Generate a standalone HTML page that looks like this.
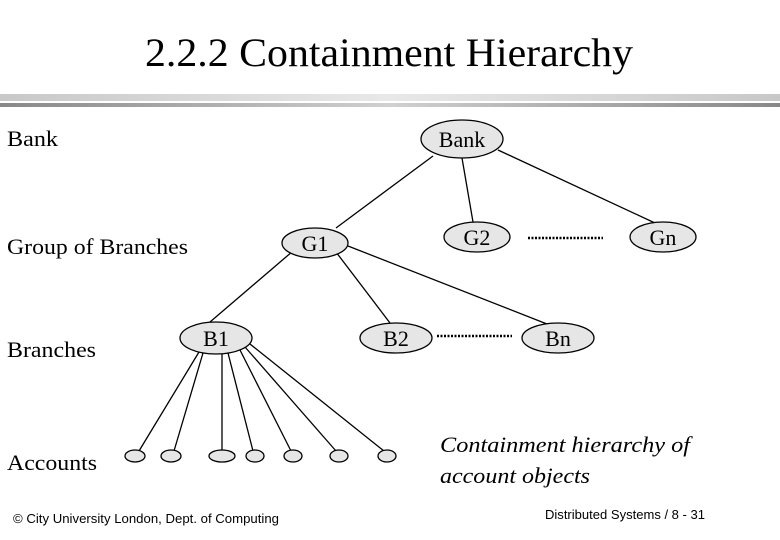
<!DOCTYPE html>
<html><head><meta charset="utf-8"><style>html,body{margin:0;padding:0;background:#fff}svg{display:block}</style></head>
<body>
<svg width="780" height="540" viewBox="0 0 780 540" xmlns="http://www.w3.org/2000/svg">
<defs>
<linearGradient id="g1" x1="0" x2="1"><stop offset="0" stop-color="#c8c8c8"/><stop offset="0.5" stop-color="#e8e8e8"/><stop offset="1" stop-color="#c8c8c8"/></linearGradient>
<linearGradient id="g2" x1="0" x2="1"><stop offset="0" stop-color="#888"/><stop offset="0.5" stop-color="#d0d0d0"/><stop offset="1" stop-color="#888"/></linearGradient>
</defs>
<rect x="0" y="94" width="780" height="7" fill="url(#g1)"/>
<rect x="0" y="103" width="780" height="4" fill="url(#g2)"/>
<g font-family="Liberation Serif, serif" fill="#000">
<text x="145" y="66" font-size="40" textLength="488" lengthAdjust="spacingAndGlyphs">2.2.2 Containment Hierarchy</text>
<text x="7" y="146" font-size="22" textLength="51" lengthAdjust="spacingAndGlyphs">Bank</text>
<text x="7" y="254" font-size="22" textLength="181" lengthAdjust="spacingAndGlyphs">Group of Branches</text>
<text x="7" y="357" font-size="22" textLength="89" lengthAdjust="spacingAndGlyphs">Branches</text>
<text x="7" y="470" font-size="22" textLength="90" lengthAdjust="spacingAndGlyphs">Accounts</text>
<text x="440" y="452" font-size="22" font-style="italic" textLength="250" lengthAdjust="spacingAndGlyphs">Containment hierarchy of</text>
<text x="440" y="483" font-size="22" font-style="italic" textLength="150" lengthAdjust="spacingAndGlyphs">account objects</text>
</g>
<g font-family="Liberation Sans, sans-serif" font-size="13" fill="#000">
<text x="13" y="523" textLength="266" lengthAdjust="spacingAndGlyphs">© City University London, Dept. of Computing</text>
<text x="545" y="519" textLength="160" lengthAdjust="spacingAndGlyphs">Distributed Systems / 8 - 31</text>
</g>
<g stroke="#000" stroke-width="1.3" fill="none">
<line x1="433" y1="156" x2="336" y2="228"/>
<line x1="462" y1="158" x2="473" y2="222"/>
<line x1="498" y1="150" x2="655" y2="223"/>
<line x1="293" y1="251" x2="210" y2="322"/>
<line x1="336" y1="252" x2="390" y2="323"/>
<line x1="348" y1="246" x2="547" y2="324"/>
<line x1="199" y1="352" x2="139" y2="451"/>
<line x1="203" y1="353" x2="174" y2="451"/>
<line x1="222" y1="353" x2="222" y2="450"/>
<line x1="228" y1="353" x2="253" y2="451"/>
<line x1="240" y1="350" x2="291" y2="451"/>
<line x1="245" y1="347" x2="336" y2="451"/>
<line x1="250" y1="344" x2="384" y2="451"/>
<line x1="528" y1="238" x2="603" y2="238" stroke-width="2.5" stroke-dasharray="2 1.5"/>
<line x1="437" y1="336" x2="512" y2="336" stroke-width="2.5" stroke-dasharray="2 1.5"/>
</g>
<g fill="#e6e6e6" stroke="#000" stroke-width="1.3">
<ellipse cx="462" cy="139" rx="41" ry="19"/>
<ellipse cx="315" cy="243" rx="33" ry="15"/>
<ellipse cx="477" cy="237" rx="33" ry="15"/>
<ellipse cx="663" cy="237" rx="33" ry="15"/>
<ellipse cx="216" cy="338" rx="36" ry="16"/>
<ellipse cx="396" cy="338" rx="36" ry="15"/>
<ellipse cx="558" cy="338" rx="36" ry="15"/>
<ellipse cx="135" cy="456" rx="10" ry="6"/>
<ellipse cx="171" cy="456" rx="10" ry="6"/>
<ellipse cx="222" cy="456" rx="13" ry="6"/>
<ellipse cx="255" cy="456" rx="9" ry="6"/>
<ellipse cx="293" cy="456" rx="9" ry="6"/>
<ellipse cx="339" cy="456" rx="9" ry="6"/>
<ellipse cx="387" cy="456" rx="9" ry="6"/>
</g>
<g font-family="Liberation Serif, serif" font-size="22" fill="#000" text-anchor="middle">
<text x="462" y="147">Bank</text>
<text x="315" y="251">G1</text>
<text x="477" y="245">G2</text>
<text x="663" y="245">Gn</text>
<text x="216" y="346">B1</text>
<text x="396" y="346">B2</text>
<text x="558" y="346">Bn</text>
</g>
</svg>
</body></html>
